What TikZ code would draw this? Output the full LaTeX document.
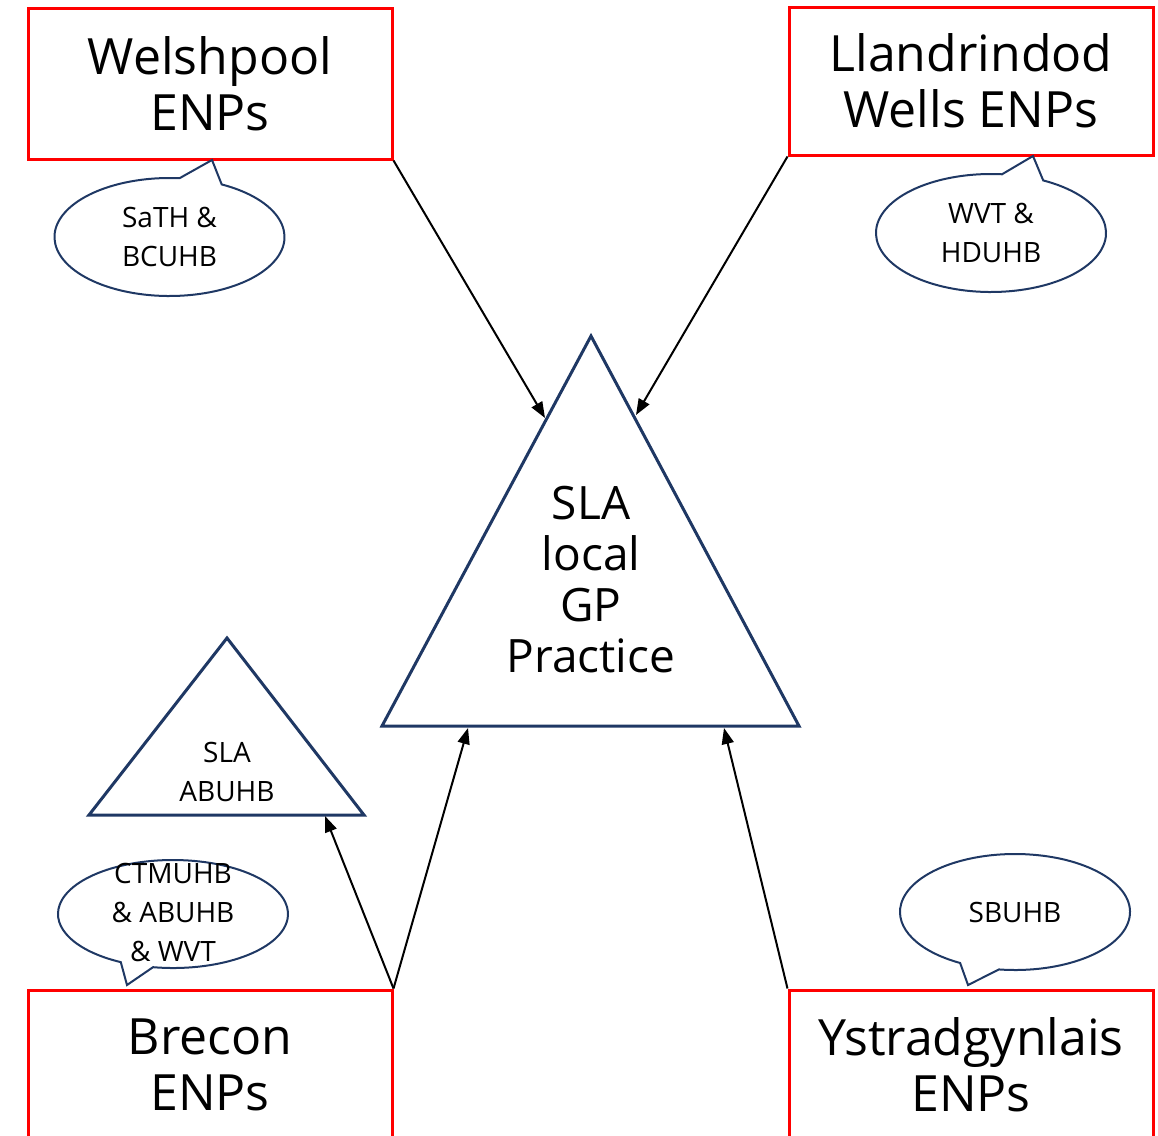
\documentclass[tikz,border=0pt]{standalone}
\usepackage{fontspec}
\setmainfont{Open Sans}
\usetikzlibrary{arrows.meta}

\definecolor{navy}{RGB}{31,56,100}

\tikzset{
    enpbox/.style={draw=red, line width=3pt, minimum width=364pt, align=center,
        font=\fontsize{50}{56}\selectfont},
    trianglepath/.style={draw=navy, line width=3pt, line join=miter},
    bubble/.style={draw=navy, line width=2pt, line join=miter},
    bubbletext/.style={align=center, font=\fontsize{28}{39}\selectfont},
    link/.style={line width=2pt, -{Triangle[length=16pt, width=12pt]}}
}

\begin{document}
\begin{tikzpicture}[x=1pt, y=-1pt]
    \useasboundingbox (0,0) rectangle (1158,1135);

    % the four groups of ENPs
    \node[enpbox, minimum height=151pt] (wel) at (210,83.5) {Welshpool\\ENPs};
    \node[enpbox, minimum height=148pt] (lla) at (971,81) {Llandrindod\\Wells ENPs};
    \node[enpbox, minimum height=150pt] (bre) at (210,1065) {Brecon\\ENPs};
    \node[enpbox, minimum height=150pt] (yst) at (971,1065) {Ystradgynlais\\ENPs};

    % local GP practice
    \draw[trianglepath] (591,336) -- (799,726) -- (382,726) -- cycle;
    \node[align=center, font=\fontsize{46}{51}\selectfont] (sla) at (591,580) {SLA\\local\\GP\\Practice};
    \coordinate (slaleft) at (545,418);
    \coordinate (slaright) at (636,415);
    \coordinate (slabaseL) at (468,728);
    \coordinate (slabaseR) at (724,728);

    % ABUHB
    \draw[trianglepath] (227,638) -- (364,815) -- (89,815) -- cycle;
    \node[bubbletext] (abu) at (227,772) {SLA\\ABUHB};
    \coordinate (abubase) at (325,816);

    % speech bubbles
    \draw[bubble] (169.5,237) ++(-63:115 and 59)
        arc[start angle=-63, end angle=275, x radius=115, y radius=59]
        -- (212,160) coordinate (weltip) -- cycle;
    \node[bubbletext] (welhb) at (169.5,237) {SaTH \&\\BCUHB};

    \draw[bubble] (991,233) ++(-63:115 and 59)
        arc[start angle=-63, end angle=275.5, x radius=115, y radius=59]
        -- (1033,156) coordinate (llatip) -- cycle;
    \node[bubbletext] (llahb) at (991,233) {WVT \&\\HDUHB};

    \draw[bubble] (173,914) ++(100:115 and 54)
        arc[start angle=100, end angle=-243, x radius=115, y radius=54]
        -- (127,985) coordinate (bretip) -- cycle;
    \node[bubbletext] (brehb) at (173,912) {CTMUHB\\\& ABUHB\\\& WVT};

    \draw[bubble] (1015,912) ++(98:115 and 58)
        arc[start angle=98, end angle=-241.5, x radius=115, y radius=58]
        -- (968,985) coordinate (ysttip) -- cycle;
    \node[bubbletext] (ysthb) at (1015,912) {SBUHB};

    % arrows
    \draw[link] (wel.south east) -- (slaleft);
    \draw[link] (lla.south west) -- (slaright);
    \draw[link] (bre.north east) -- (slabaseL);
    \draw[link] (bre.north east) -- (abubase);
    \draw[link] (yst.north west) -- (slabaseR);
\end{tikzpicture}
\end{document}
